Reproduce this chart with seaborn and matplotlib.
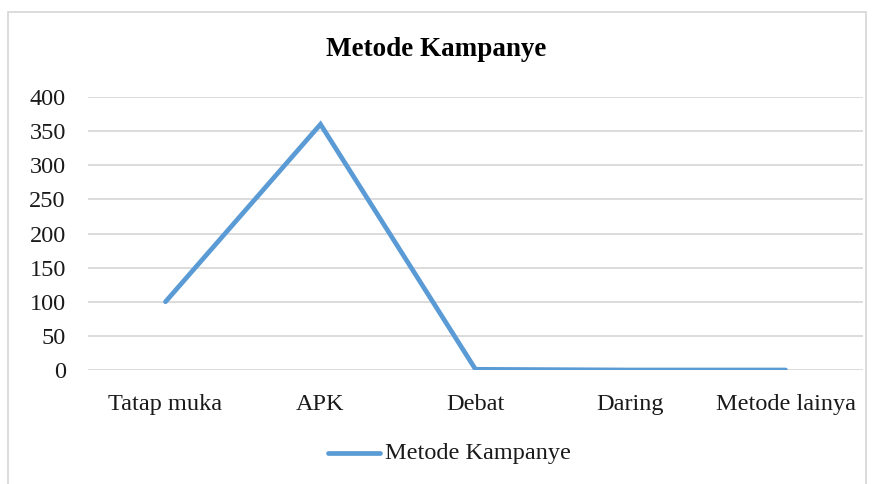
import pandas as pd
import seaborn as sns
import matplotlib.pyplot as plt
from matplotlib.patches import Rectangle

categories = ["Tatap muka", "APK", "Debat", "Daring", "Metode lainya"]
values = [100, 360, 1, 0, 0]
series_name = "Metode Kampanye"

df = pd.DataFrame({"metode": categories, "jumlah": values, "seri": series_name})

sns.set_theme(style="white")
plt.rcParams["font.family"] = ["Liberation Serif", "DejaVu Serif"]

fig = plt.figure(figsize=(8.73, 4.84), dpi=100)
ax = fig.add_axes([88 / 873, 1 - 370 / 484, 775 / 873, 273 / 484])

sns.lineplot(data=df, x="metode", y="jumlah", hue="seri", palette=["#5B9BD5"],
             sort=False, linewidth=3.4, ax=ax, legend=False,
             solid_capstyle="round", solid_joinstyle="miter")

ax.set_xlim(-0.5, len(categories) - 0.5)
ax.set_ylim(0, 400)
ax.set_yticks(range(0, 401, 50))
ax.yaxis.grid(True, color="#d9d9d9", linewidth=1.3)
ax.set_axisbelow(True)
for s in ax.spines.values():
    s.set_visible(False)
ax.tick_params(axis="y", labelsize=17.5, pad=16, length=0)
ax.tick_params(axis="x", labelsize=17.5, pad=17, length=0)
ax.tick_params(colors="#1a1a1a")
ax.set_xlabel("")
ax.set_ylabel("")

fig.text(0.5, 1 - 49 / 484, series_name, ha="center", va="center",
         fontsize=19.5, fontweight="bold", color="black")

# legend
fig.lines.append(plt.Line2D([328 / 873, 380 / 873], [1 - 453 / 484] * 2,
                            transform=fig.transFigure, color="#5B9BD5", linewidth=3.4))
fig.text(385 / 873, 1 - 453 / 484, series_name, ha="left", va="center",
         fontsize=17.5, color="#1a1a1a")

# chart border
fig.patches.append(Rectangle((8 / 873, -0.01), 858 / 873, 1 - 12 / 484 + 0.01,
                             transform=fig.transFigure, fill=False,
                             edgecolor="#d9d9d9", linewidth=1.3))

fig.savefig("out.png", dpi=100)
